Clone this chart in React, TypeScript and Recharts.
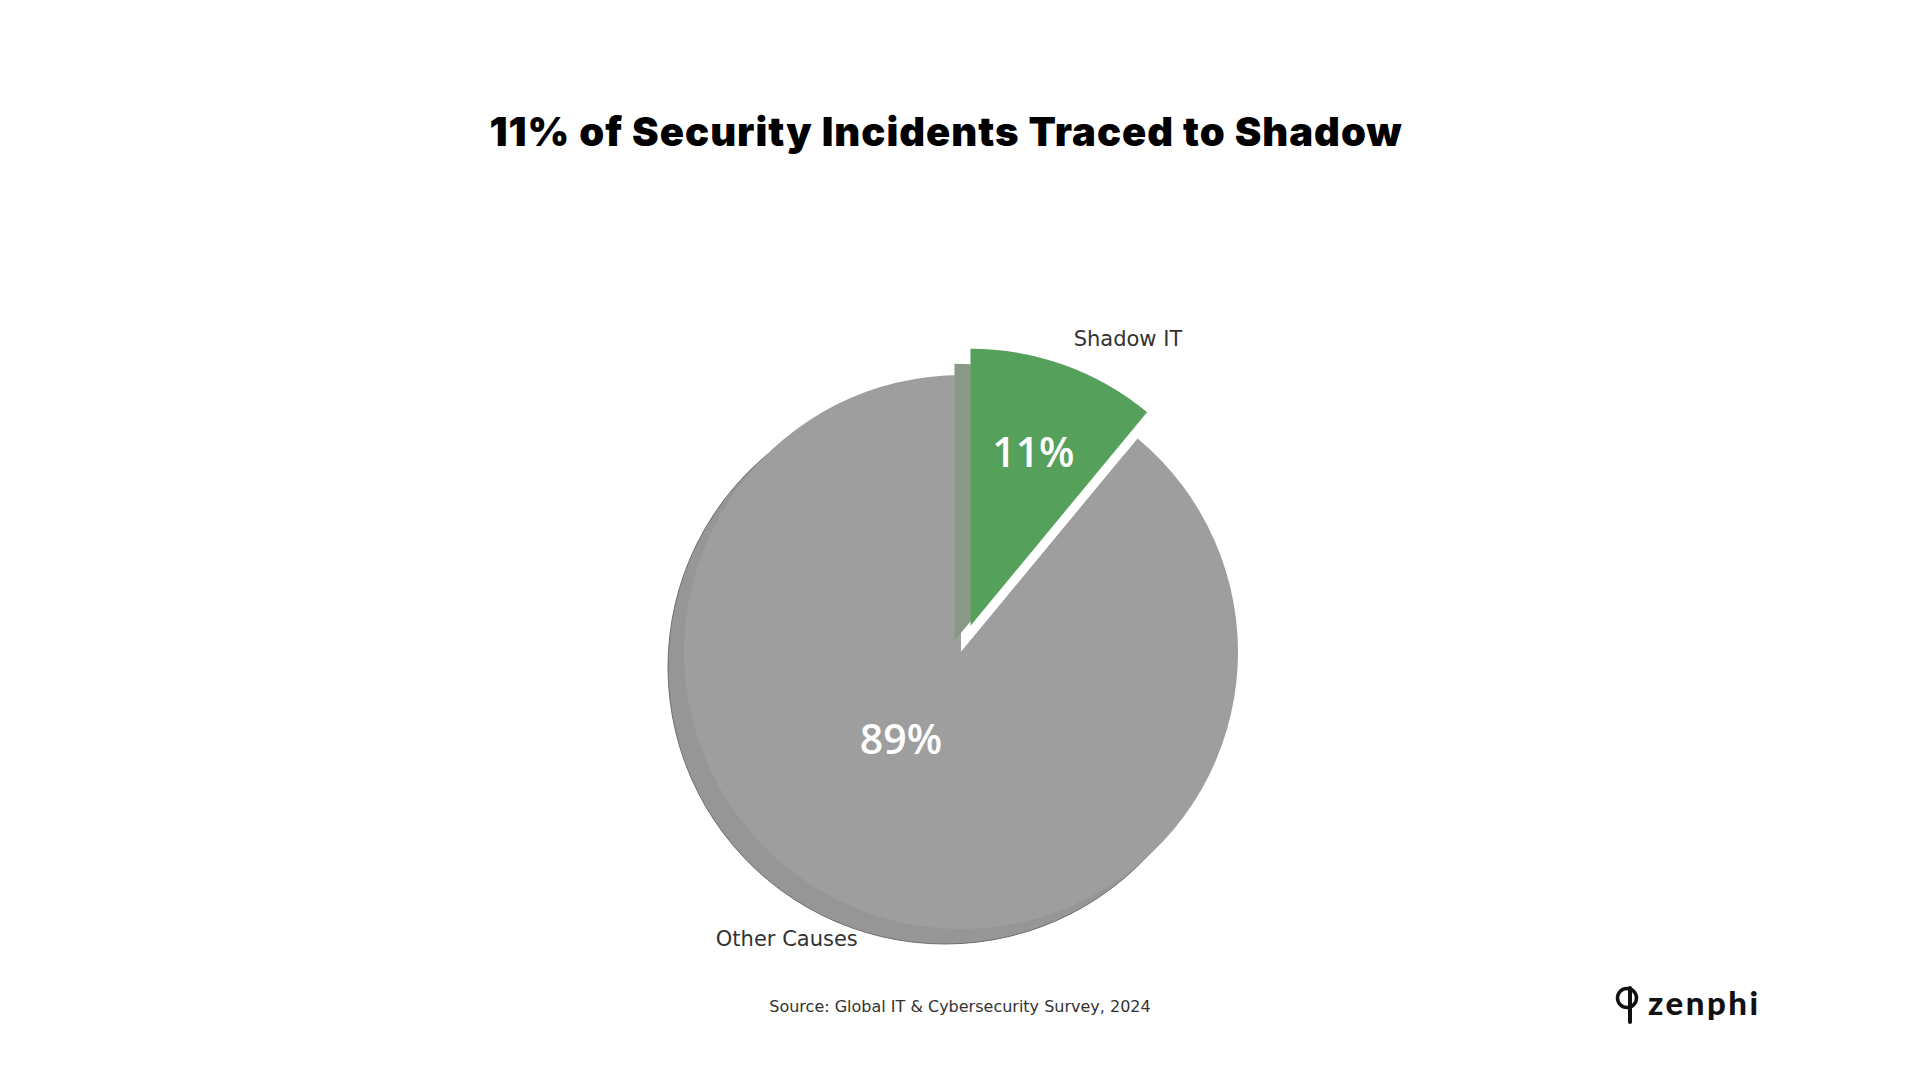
import React from "react";
import { PieChart, Pie, Cell } from "recharts";

const categories = ["Shadow IT", "Other Causes"];
const shares = [11, 89];
const sliceColors = ["#55a05a", "#9e9e9e"];
const shadowColors = ["#889a86", "#969696"];

// label placement for the percentage text (fraction of radius, angle shift)
const pctRadius = [0.67, 0.38];
const pctShift = [0, -15];

const data = categories.map((name, i) => ({ name, value: shares[i] }));
const total = shares.reduce((a, b) => a + b, 0);

const W = 1920;
const H = 1080;
const CX = 961;
const CY = 652;
const R = 277;
const EXPLODE = 28;
const SHADOW = { dx: -16, dy: 15 };
const RAD = Math.PI / 180;

// mid angle of the exploded slice, from the data
const greenMid = 90 - (shares[0] / total) * 180;
const gx = CX + EXPLODE * Math.cos(greenMid * RAD);
const gy = CY - EXPLODE * Math.sin(greenMid * RAD);

const makeLabel = (visible: number) => (props: any) => {
  const { cx, cy, midAngle, outerRadius, index, value, name } = props;
  if (index !== visible) return null;
  const outer = outerRadius * 1.1;
  const ox = cx + outer * Math.cos(-midAngle * RAD);
  const oy = cy + outer * Math.sin(-midAngle * RAD);
  const pa = (midAngle + pctShift[index]) * RAD;
  const pr = outerRadius * pctRadius[index];
  const px = cx + pr * Math.cos(-pa);
  const py = cy + pr * Math.sin(-pa);
  return (
    <g>
      <text
        x={ox}
        y={oy}
        textAnchor={ox > cx ? "start" : "end"}
        dominantBaseline="central"
        fill="#333333"
        fontFamily="DejaVu Sans"
        fontSize={21}
      >
        {name}
      </text>
      <text
        x={px}
        y={py}
        textAnchor="middle"
        dominantBaseline="central"
        fill="#ffffff"
        fontFamily="Open Sans"
        fontWeight={600}
        fontSize={41}
      >
        {`${value}%`}
      </text>
    </g>
  );
};

const pieBase = {
  data,
  dataKey: "value",
  startAngle: 90,
  endAngle: -270,
  outerRadius: R,
  stroke: "none",
  labelLine: false,
  isAnimationActive: false,
};

export default function App() {
  return (
    <div style={{ position: "absolute", left: 0, top: 0, width: W, height: H, background: "#fff" }}>
      <PieChart width={W} height={H} margin={{ top: 0, right: 0, bottom: 0, left: 0 }}>
        {/* shadow of the big slice */}
        <Pie {...pieBase} cx={CX + SHADOW.dx} cy={CY + SHADOW.dy}>
          {data.map((d, i) => (
            <Cell key={d.name} fill={i === 1 ? shadowColors[1] : "none"} stroke={i === 1 ? "#6e6e6e" : "none"} strokeWidth={1} />
          ))}
        </Pie>
        {/* keep the gap white */}
        <Pie {...pieBase} cx={CX} cy={CY}>
          {data.map((d, i) => (
            <Cell key={d.name} fill={i === 0 ? "#ffffff" : "none"} />
          ))}
        </Pie>
        <Pie {...pieBase} cx={CX} cy={CY} label={makeLabel(1)}>
          {data.map((d, i) => (
            <Cell key={d.name} fill={i === 1 ? sliceColors[1] : "none"} />
          ))}
        </Pie>
        {/* shadow of the exploded slice */}
        <Pie {...pieBase} cx={gx + SHADOW.dx} cy={gy + SHADOW.dy}>
          {data.map((d, i) => (
            <Cell key={d.name} fill={i === 0 ? shadowColors[0] : "none"} />
          ))}
        </Pie>
        <Pie {...pieBase} cx={gx} cy={gy} label={makeLabel(0)}>
          {data.map((d, i) => (
            <Cell key={d.name} fill={i === 0 ? sliceColors[0] : "none"} />
          ))}
        </Pie>
      </PieChart>
      <svg width={W} height={H} style={{ position: "absolute", left: 0, top: 0, pointerEvents: "none" }}>
        <text x={946} y={146} textAnchor="middle" fontFamily="Inter" fontWeight={900} fontSize={40} letterSpacing={1} fill="#000">
          11% of Security Incidents Traced to Shadow
        </text>
        <text x={960} y={1012} textAnchor="middle" fontFamily="DejaVu Sans" fontSize={16} fill="#333333">
          Source: Global IT &amp; Cybersecurity Survey, 2024
        </text>
        {/* logo mark */}
        <circle cx={1627} cy={998} r={9.5} fill="none" stroke="#111" strokeWidth={3.5} />
        <line x1={1630} y1={988} x2={1630} y2={1022} stroke="#111" strokeWidth={4} strokeLinecap="round" />
        <text x={1648} y={1015} fontFamily="Lato" fontWeight={900} fontSize={33} letterSpacing={2.5} fill="#111">
          zenphi
        </text>
      </svg>
    </div>
  );
}
